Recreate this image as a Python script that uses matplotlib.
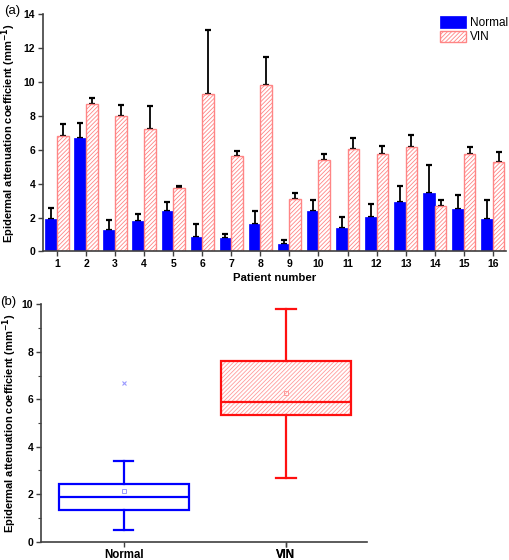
import matplotlib
matplotlib.use("Agg")
import matplotlib.pyplot as plt
import numpy as np

plt.rcParams['font.family'] = ['Liberation Sans', 'DejaVu Sans']
plt.rcParams['hatch.linewidth'] = 0.6

# --- data (a) ---
patients = list(range(1, 17))
normal_mean = [1.91, 6.67, 1.28, 1.79, 2.36, 0.85, 0.81, 1.59,
               0.45, 2.38, 1.40, 2.06, 2.89, 3.42, 2.48, 1.89]
normal_top = [2.56, 7.57, 1.83, 2.20, 2.89, 1.61, 1.02, 2.40,
              0.65, 3.05, 2.04, 2.81, 3.83, 5.07, 3.32, 3.05]
vin_mean = [6.78, 8.67, 8.00, 7.20, 3.72, 9.30, 5.60, 9.79,
            3.07, 5.39, 6.02, 5.76, 6.17, 2.65, 5.76, 5.25]
vin_top = [7.51, 9.04, 8.61, 8.57, 3.85, 13.06, 5.92, 11.44,
           3.44, 5.76, 6.67, 6.19, 6.84, 3.01, 6.17, 5.86]

# --- data (b) ---
groups = ["Normal", "VIN"]
box_q1 = [1.35, 5.35]
box_med = [1.90, 5.90]
box_q3 = [2.45, 7.61]
box_lo = [0.50, 2.70]
box_hi = [3.39, 9.80]
box_mean = [2.15, 6.28]
box_fliers = [[6.70], []]

blue = "#0000ff"
pink = "#ff8585"
red = "#ff1010"
spine_c = "#404040"
ylab = "Epidermal attenuation coefficient (mm$^{\\mathbf{-1}}$)"

fig = plt.figure(figsize=(5.1, 5.6), dpi=100)

# ---------------- (a) bar chart ----------------
ax1 = fig.add_axes([0.0843, 0.551, 0.9077, 0.424])
x = np.array(patients)
w = 0.4
err_n = np.array(normal_top) - np.array(normal_mean)
err_v = np.array(vin_top) - np.array(vin_mean)
ax1.bar(x - w / 2, normal_mean, w, color=blue, edgecolor=blue, linewidth=0.5,
        label="Normal", zorder=2)
ax1.bar(x + w / 2, vin_mean, w, color="white", edgecolor=pink, hatch="////////",
        linewidth=1.0, label="VIN", zorder=2)
ax1.errorbar(x - w / 2, normal_mean, yerr=[np.zeros(16), err_n], fmt="none",
             ecolor="black", elinewidth=1.3, capsize=2.2, capthick=1.6, zorder=1)
ax1.errorbar(x + w / 2, vin_mean, yerr=[np.zeros(16), err_v], fmt="none",
             ecolor="black", elinewidth=1.3, capsize=2.2, capthick=1.6, zorder=1)

ax1.set_xlim(0.52, 16.45)
ax1.set_ylim(0, 14)
ax1.set_yticks(np.arange(0, 15, 2))
ax1.set_xticks(x)
ax1.set_xlabel("Patient number", fontsize=8.2, fontweight="bold", labelpad=3)
ax1.set_ylabel(ylab, fontsize=8, fontweight="bold")
ax1.yaxis.set_label_coords(-0.054, 0.5)
ax1.legend(loc="upper right", bbox_to_anchor=(1.02, 1.02), frameon=False,
           fontsize=8.5, handlelength=2.2, handleheight=1.1,
           labelspacing=0.15, handletextpad=0.3, borderaxespad=0.2)
ax1.text(-0.085, 1.04, "(a)", transform=ax1.transAxes, fontsize=9.5, va="top")

# ---------------- (b) box plot ----------------
ax2 = fig.add_axes([0.0804, 0.0327, 0.6392, 0.4239])
stats = []
for i, g in enumerate(groups):
    stats.append(dict(label=g, q1=box_q1[i], med=box_med[i], q3=box_q3[i],
                      whislo=box_lo[i], whishi=box_hi[i], mean=box_mean[i],
                      fliers=box_fliers[i]))
cols = [blue, red]
meancols = ["#9a9aff", "#ff9a9a"]
for i, st in enumerate(stats):
    c = cols[i]
    if i == 1:
        # light hatched fill underneath
        under = ax2.bxp([st], positions=[i + 1], widths=0.8, capwidths=0.12,
                        patch_artist=True, showcaps=False, showfliers=False,
                        boxprops=dict(facecolor="white", edgecolor="#ff9c9c",
                                      linewidth=0),
                        medianprops=dict(linewidth=0),
                        whiskerprops=dict(linewidth=0))
        under["boxes"][0].set_hatch("////////")
    ax2.bxp([st], positions=[i + 1], widths=0.8, capwidths=0.12,
            patch_artist=True, showmeans=True,
            boxprops=dict(facecolor="none", edgecolor=c, linewidth=1.6),
            medianprops=dict(color=c, linewidth=1.6),
            whiskerprops=dict(color=c, linewidth=1.6),
            capprops=dict(color=c, linewidth=1.6),
            meanprops=dict(marker="s", markerfacecolor="none",
                           markeredgecolor=meancols[i], markersize=3,
                           markeredgewidth=0.7),
            flierprops=dict(marker="x", markeredgecolor=meancols[i],
                            markersize=2.5, markeredgewidth=0.8))

ax2.set_xlim(0.49, 2.5)
ax2.set_ylim(0, 10)
ax2.set_yticks(np.arange(0, 11, 2))
ax2.set_yticks(np.arange(1, 10, 2), minor=True)
ax2.set_ylabel(ylab, fontsize=8, fontweight="bold")
ax2.yaxis.set_label_coords(-0.068, 0.5)
ax2.text(-0.125, 1.035, "(b)", transform=ax2.transAxes, fontsize=9.5, va="top")

for ax in (ax1, ax2):
    for s in ("top", "right"):
        ax.spines[s].set_visible(False)
    for s in ("left", "bottom"):
        ax.spines[s].set_color(spine_c)
        ax.spines[s].set_linewidth(1.2)
    ax.tick_params(direction="out", length=3.5, width=1.0, color=spine_c,
                   labelsize=7.5, pad=2)
    ax.tick_params(which="minor", direction="out", length=2, width=0.8,
                   color=spine_c)
    for lab in ax.get_xticklabels() + ax.get_yticklabels():
        lab.set_fontweight("bold")
ax2.tick_params(axis="x", labelsize=8.3)

fig.savefig("out.png", dpi=100)
